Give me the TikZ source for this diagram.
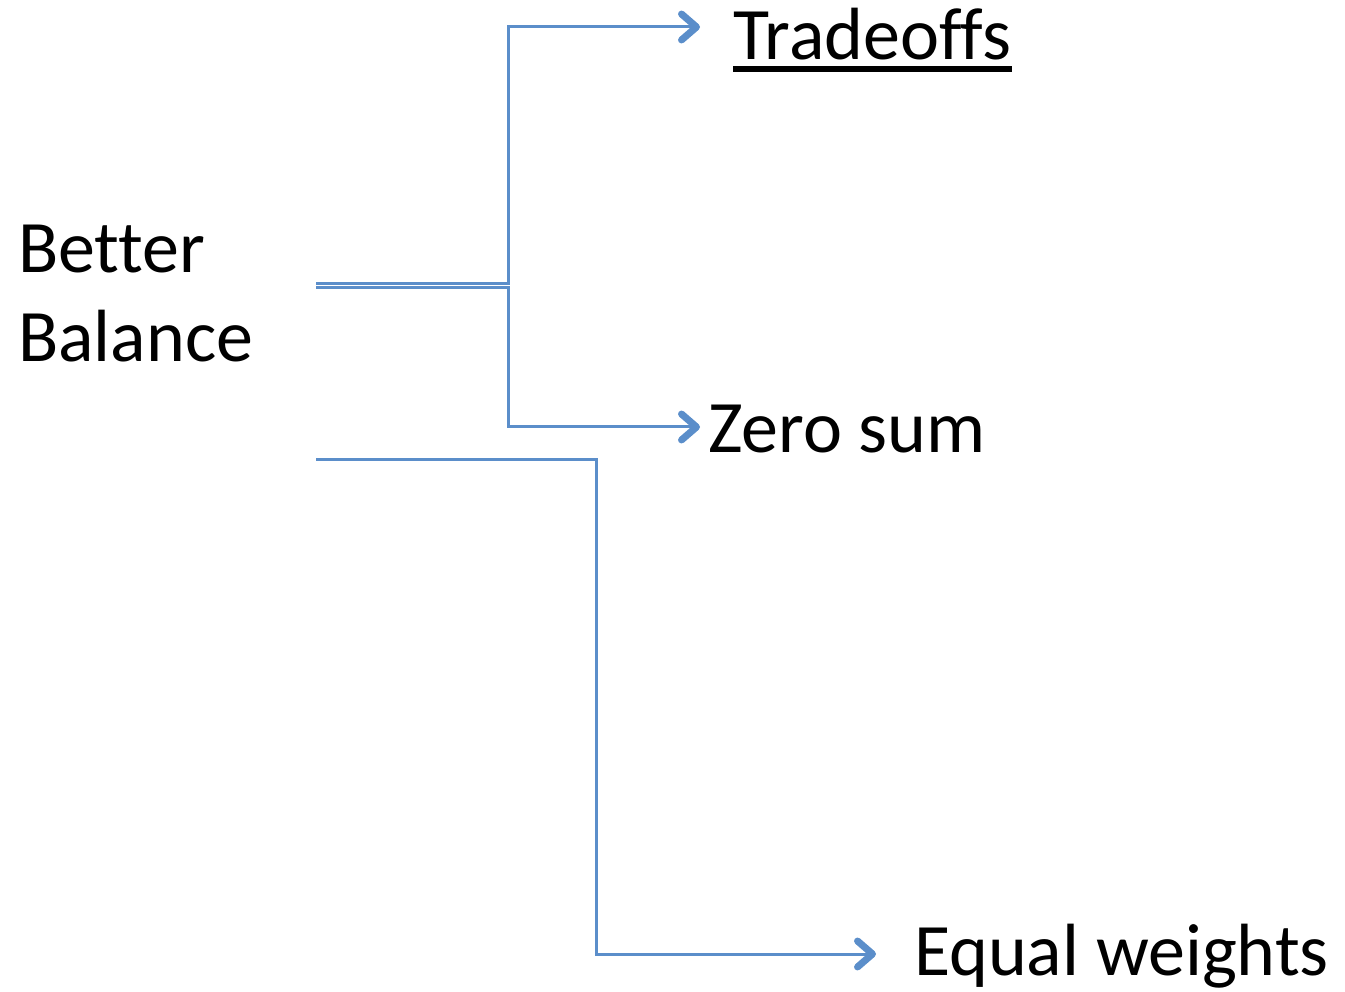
\documentclass[tikz,border=0pt]{standalone}
\usepackage{fontspec}
\setmainfont[Ligatures=NoCommon]{Carlito}
\usetikzlibrary{arrows.meta}
\definecolor{conn}{RGB}{91,142,202}
\tikzset{
  lbl/.style={anchor=base west, inner sep=0pt, font=\fontsize{74}{89}\selectfont},
  wire/.style={draw=conn, line width=3pt},
  arr/.style={wire, -{Straight Barb[length=15pt,width=26pt,line width=7pt 0 1,round]}}
}
\begin{document}
\begin{tikzpicture}[x=1pt,y=-1pt]
\useasboundingbox (0,0) rectangle (1345,992);
\node[lbl, align=left] (bb) at (18,362) {Better\\Balance};
\node[lbl] (trade) at (733,60) {Tradeoffs};
\draw[line width=5.5pt] ([yshift=-9pt]trade.base west) -- ([yshift=-9pt]trade.base east);
\node[lbl] (zero) at (708,453) {Zero sum};
\node[lbl] (equal) at (914,975) {Equal weights};
\coordinate (s1) at (316,283.8);
\coordinate (s2) at (316,287.6);
\coordinate (s3) at (316,459);
\coordinate (t1) at (700,27);
\coordinate (t2) at (700,427);
\coordinate (t3) at (876,954);
\draw[arr] (s1) -| (508,27) -- (t1);
\draw[arr] (s2) -| (508,427) -- (t2);
\draw[arr] (s3) -| (596,954) -- (t3);
\end{tikzpicture}
\end{document}
